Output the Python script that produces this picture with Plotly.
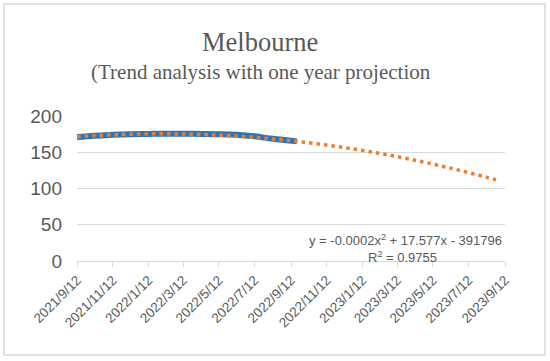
import plotly.graph_objects as go

# Observed data (blue series)
data_dates = ["2021-09-12", "2021-10-12", "2021-11-12", "2021-12-12", "2022-01-12",
              "2022-02-12", "2022-03-12", "2022-04-12", "2022-05-12", "2022-06-12",
              "2022-07-12", "2022-08-12", "2022-09-22"]
data_values = [171.0, 172.8, 174.3, 175.0, 175.3, 175.5, 175.5, 175.3, 175.0, 174.2,
               172.0, 168.5, 165.0]

# Polynomial trendline (orange dotted), with one-year projection
trend_dates = ["2021-09-12", "2021-10-12", "2021-11-12", "2021-12-12", "2022-01-12",
               "2022-02-12", "2022-03-12", "2022-04-12", "2022-05-12", "2022-06-12",
               "2022-07-12", "2022-08-12", "2022-09-12", "2022-10-12", "2022-11-12",
               "2022-12-12", "2023-01-12", "2023-02-12", "2023-03-12", "2023-04-12",
               "2023-05-12", "2023-06-12", "2023-07-12", "2023-08-12", "2023-09-02"]
trend_values = [171.3, 172.8, 174.0, 174.8, 175.3, 175.4, 175.1, 174.5, 173.5, 172.1,
                170.5, 168.4, 165.9, 163.1, 159.9, 156.4, 152.5, 148.2, 143.9, 138.9,
                133.7, 127.9, 121.9, 115.4, 110.8]

tick_dates = ["2021-09-12", "2021-11-12", "2022-01-12", "2022-03-12", "2022-05-12",
              "2022-07-12", "2022-09-12", "2022-11-12", "2023-01-12", "2023-03-12",
              "2023-05-12", "2023-07-12", "2023-09-12"]
tick_labels = ["2021/9/12", "2021/11/12", "2022/1/12", "2022/3/12", "2022/5/12",
               "2022/7/12", "2022/9/12", "2022/11/12", "2023/1/12", "2023/3/12",
               "2023/5/12", "2023/7/12", "2023/9/12"]

y_ticks = [0, 50, 100, 150, 200]

title_text = "Melbourne"
subtitle_text = "(Trend analysis with one year projection"
equation_text = "y = -0.0002x<sup>2</sup> + 17.577x - 391796"
r2_text = "R<sup>2</sup> = 0.9755"

GRAY = "#595959"
GRID = "#D9D9D9"
SANS = "Liberation Sans, Arial, sans-serif"
SERIF = "Liberation Serif, DejaVu Serif, serif"

fig = go.Figure()
fig.add_trace(go.Scatter(x=data_dates, y=data_values, mode="lines",
                         line=dict(color="#2E75B6", width=6, shape="spline"),
                         showlegend=False, hoverinfo="skip"))
fig.add_trace(go.Scatter(x=trend_dates, y=trend_values, mode="lines",
                         line=dict(color="#ED7D31", width=3.5, dash="3.5px,4px", shape="spline"),
                         showlegend=False, hoverinfo="skip"))

W, H = 550, 361
L, R, T, B = 77, 505, 116, 261
pw, ph = R - L, B - T

def px(x):
    return (x - L) / pw

def py(y):
    return (B - y) / ph

fig.update_layout(
    width=W, height=H,
    margin=dict(l=L, r=W - R, t=T, b=H - B),
    paper_bgcolor="white", plot_bgcolor="white",
    xaxis=dict(type="date", range=[tick_dates[0], tick_dates[-1]],
               tickmode="array", tickvals=tick_dates, ticktext=tick_labels,
               tickangle=-45, ticks="outside", ticklen=5, tickcolor=GRID,
               showline=True, linecolor=GRID, linewidth=1,
               showgrid=False, zeroline=False,
               tickfont=dict(family=SANS, size=13.5, color=GRAY)),
    yaxis=dict(range=[0, 200], tickmode="array", tickvals=y_ticks,
               showgrid=True, gridcolor=GRID, gridwidth=1,
               zeroline=False, showline=False, ticks="",
               ticklabelstandoff=14,
               tickfont=dict(family=SANS, size=19, color=GRAY)),
    shapes=[dict(type="rect", xref="paper", yref="paper",
                 x0=px(4), x1=px(545), y0=py(355), y1=py(4),
                 line=dict(color=GRID, width=1.5), layer="below")],
    annotations=[
        dict(text=title_text, xref="paper", yref="paper", x=px(260), y=py(42),
             xanchor="center", yanchor="middle", showarrow=False,
             font=dict(family=SERIF, size=26.5, color=GRAY)),
        dict(text=subtitle_text, xref="paper", yref="paper", x=px(261), y=py(72),
             xanchor="center", yanchor="middle", showarrow=False,
             font=dict(family=SERIF, size=21, color=GRAY)),
        dict(text=equation_text, xref="paper", yref="paper", x=px(504), y=py(240),
             xanchor="right", yanchor="middle", showarrow=False,
             font=dict(family=SANS, size=13, color=GRAY)),
        dict(text=r2_text, xref="paper", yref="paper", x=px(402), y=py(257),
             xanchor="center", yanchor="middle", showarrow=False,
             font=dict(family=SANS, size=13, color=GRAY)),
    ],
)

fig.write_html("out.html",
               config={"displayModeBar": False},
               post_script="document.body.style.margin='0';document.body.style.padding='0';")
